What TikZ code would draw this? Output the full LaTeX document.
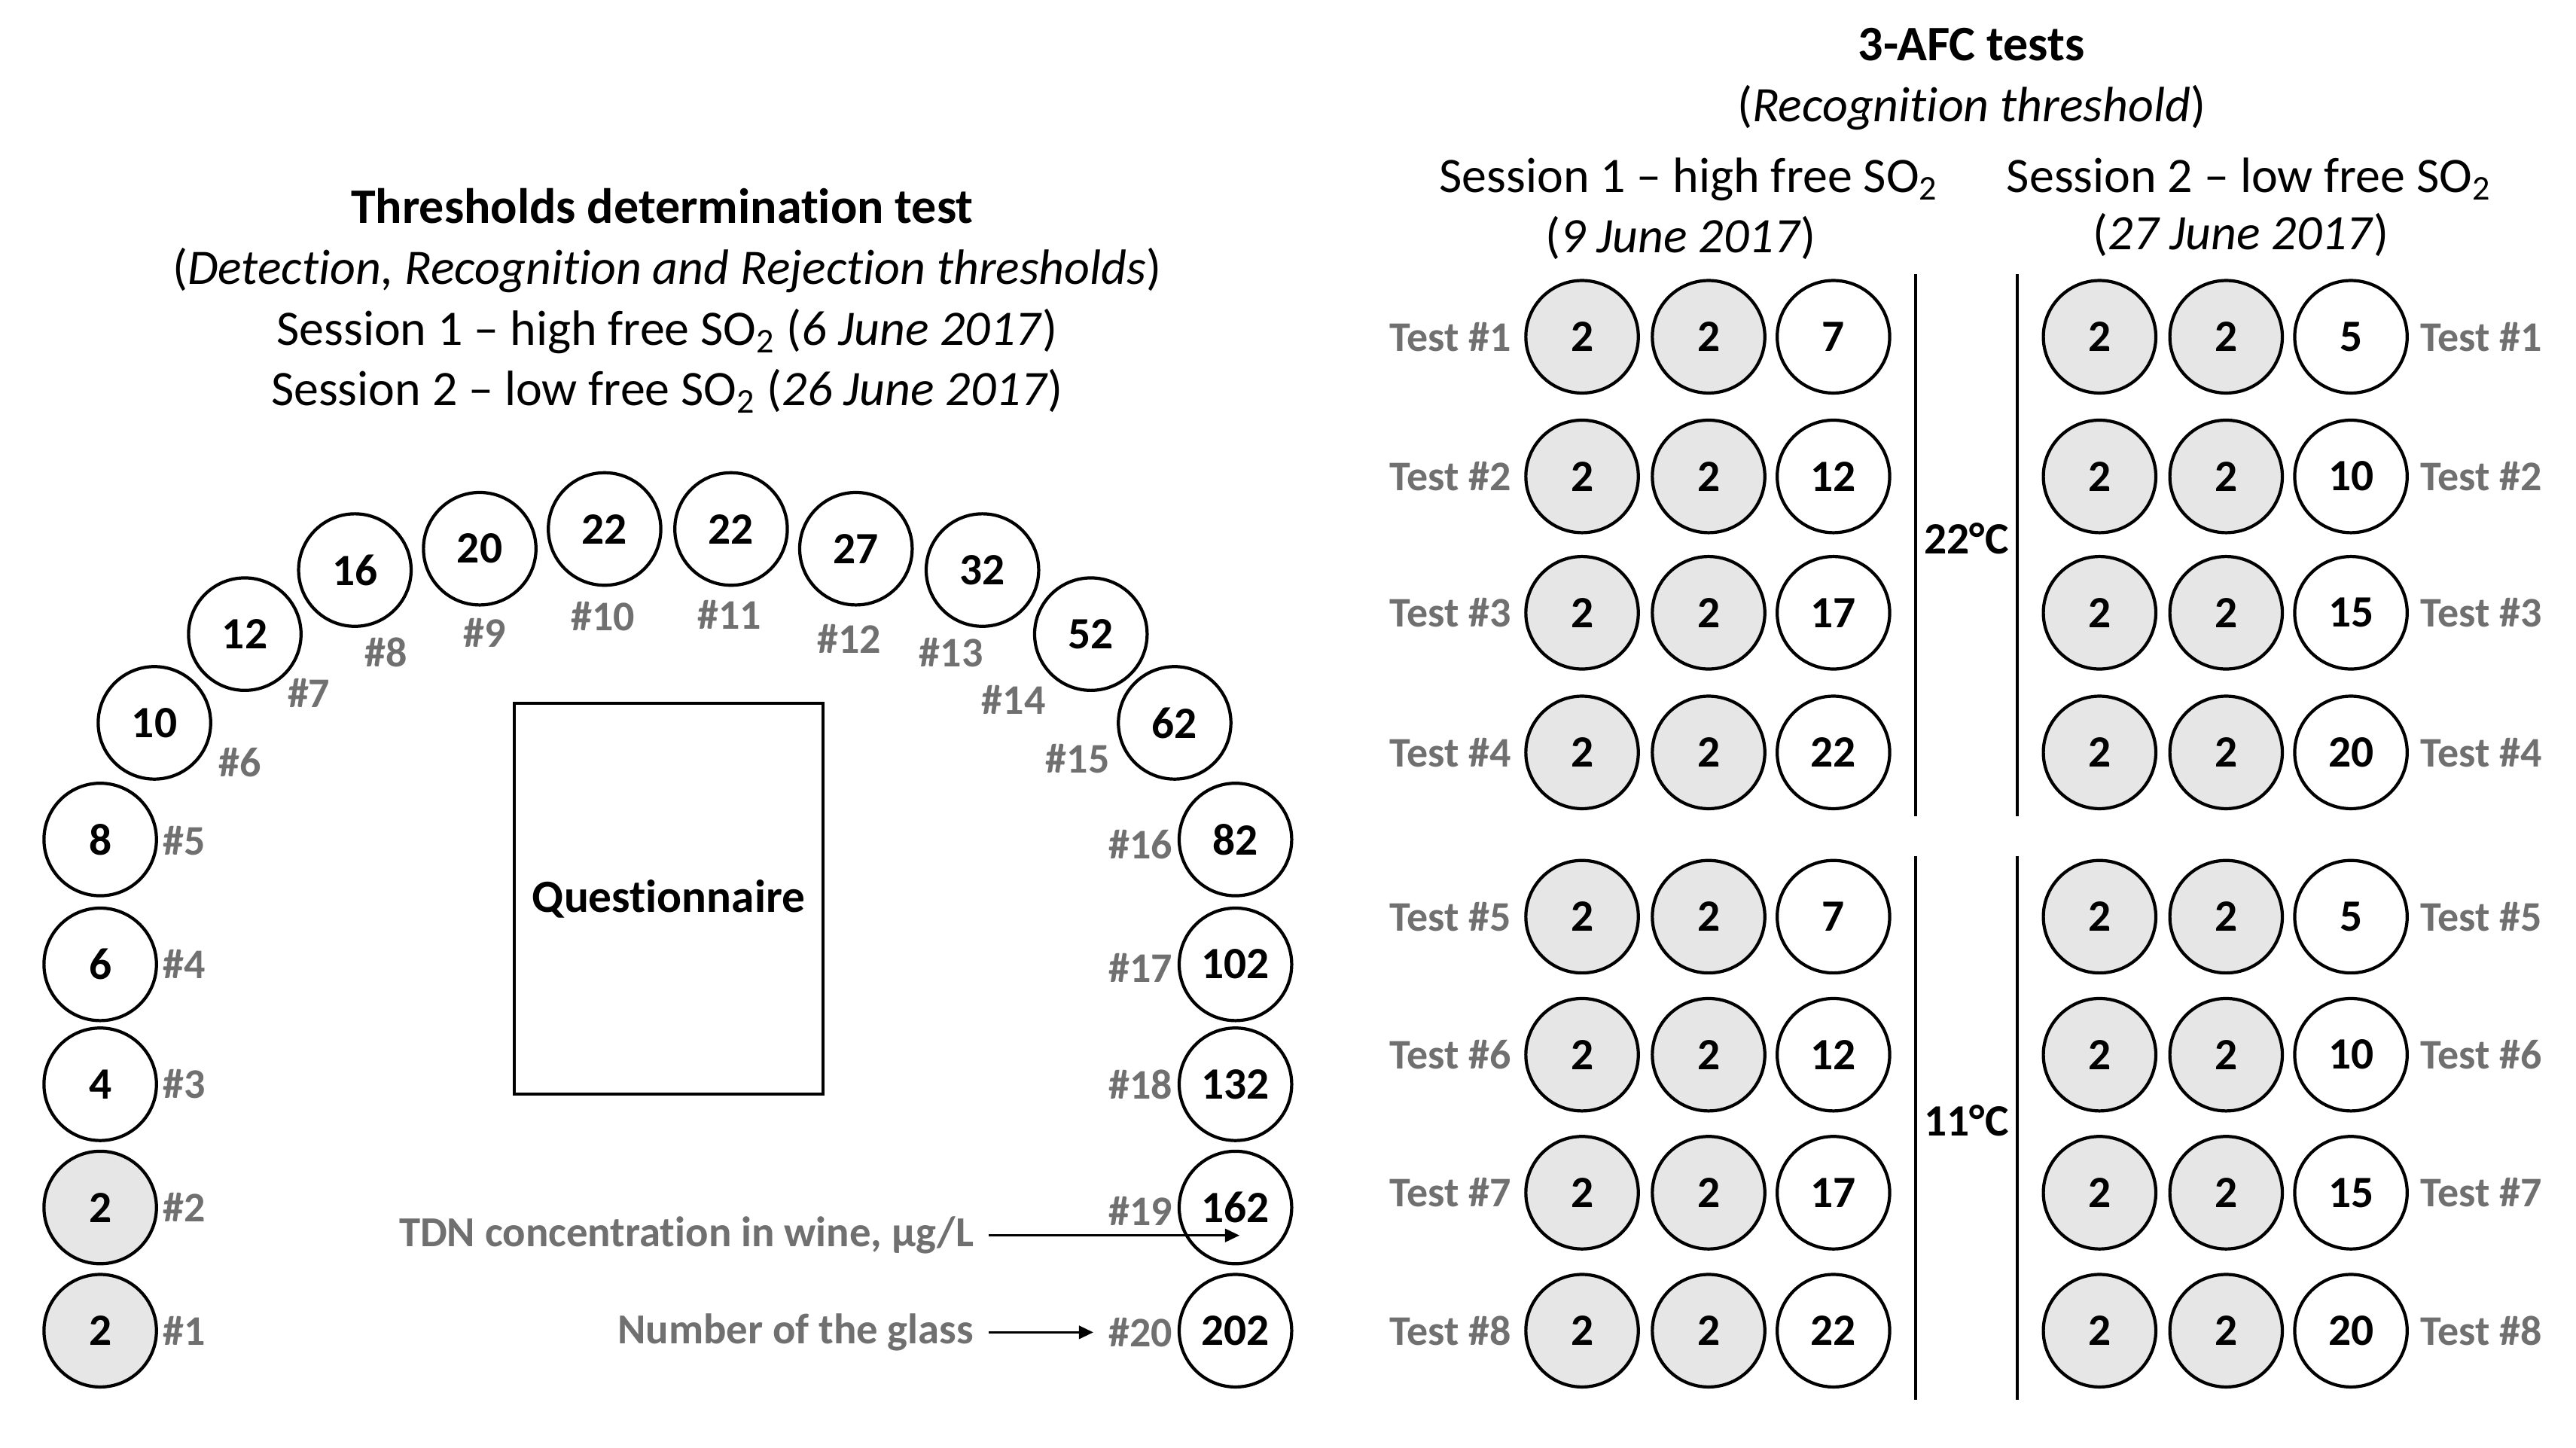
\documentclass[tikz,border=0pt]{standalone}
\usepackage{fontspec}
\setmainfont{Carlito}[Ligatures={NoCommon}]
\usetikzlibrary{arrows.meta}
\definecolor{ctrlgray}{RGB}{230,230,230}
\definecolor{labgray}{RGB}{112,112,112}
\newcommand\gnumfont{\fontsize{15.5}{18}\selectfont\bfseries}
\newcommand\glabfont{\fontsize{14.6}{17}\selectfont\bfseries}
\newcommand\gheadfont{\fontsize{17.2}{20}\selectfont}
\tikzset{
  glass/.style={circle, draw, line width=1.1pt, minimum size=1.37cm, inner sep=0pt, font=\gnumfont},
  ctrl/.style={glass, fill=ctrlgray},
  lab/.style={text=labgray, font=\glabfont, inner sep=0pt},
  head/.style={font=\gheadfont, inner sep=0pt, anchor=base},
  sep/.style={line width=1.1pt},
  arr/.style={line width=0.9pt, -{Triangle[length=5pt,width=4.5pt]}},
}
\begin{document}
\begin{tikzpicture}[x=0.02cm, y=-0.02cm]
\useasboundingbox (0,0) rectangle (1568,881);

% ---------- Left: thresholds determination test ----------
\node[head, font=\gheadfont\bfseries] (t1) at (403,136) {Thresholds determination test};
\node[head] (t2) at (406,173) {(\textit{Detection, Recognition and Rejection thresholds})};
\node[head] (t3) at (406,210) {Session 1 -- high free SO\textsubscript{2} (\textit{6 June 2017})};
\node[head] (t4) at (406,247) {Session 2 -- low free SO\textsubscript{2} (\textit{26 June 2017})};

\node[ctrl]  (g1)  at (61,810) {2};
\node[ctrl]  (g2)  at (61,735) {2};
\node[glass] (g3)  at (61,660) {4};
\node[glass] (g4)  at (61,587) {6};
\node[glass] (g5)  at (61,511) {8};
\node[glass] (g6)  at (94,440) {10};
\node[glass] (g7)  at (149,386) {12};
\node[glass] (g8)  at (216,347) {16};
\node[glass] (g9)  at (292,334) {20};
\node[glass] (g10) at (368,322) {22};
\node[glass] (g11) at (445,322) {22};
\node[glass] (g12) at (521,334) {27};
\node[glass] (g13) at (598,347) {32};
\node[glass] (g14) at (664,386) {52};
\node[glass] (g15) at (715,440) {62};
\node[glass] (g16) at (752,511) {82};
\node[glass] (g17) at (752,587) {102};
\node[glass] (g18) at (752,660) {132};
\node[glass] (g19) at (752,735) {162};
\node[glass] (g20) at (752,810) {202};

\node[lab, anchor=west] (l1) at (99,810) {\#1};
\node[lab, anchor=west] (l2) at (99,735) {\#2};
\node[lab, anchor=west] (l3) at (99,660) {\#3};
\node[lab, anchor=west] (l4) at (99,587) {\#4};
\node[lab, anchor=west] (l5) at (99,512) {\#5};
\node[lab] (l6)  at (146,464) {\#6};
\node[lab] (l7)  at (188,422) {\#7};
\node[lab] (l8)  at (235,397) {\#8};
\node[lab] (l9)  at (295,385) {\#9};
\node[lab] (l10) at (367,375) {\#10};
\node[lab] (l11) at (444,374) {\#11};
\node[lab] (l12) at (517,389) {\#12};
\node[lab] (l13) at (579,397) {\#13};
\node[lab] (l14) at (617,426) {\#14};
\node[lab] (l15) at (656,462) {\#15};
\node[lab, anchor=east] (l16) at (714,514) {\#16};
\node[lab, anchor=east] (l17) at (714,589) {\#17};
\node[lab, anchor=east] (l18) at (714,660) {\#18};
\node[lab, anchor=east] (l19) at (714,737) {\#19};
\node[lab, anchor=east] (l20) at (714,811) {\#20};

\node[draw, line width=1.1pt, minimum width=3.76cm, minimum height=4.76cm, inner sep=0pt,
      font=\fontsize{16}{19}\selectfont\bfseries] (q) at (407,547) {Questionnaire};

\node[lab, anchor=east, font=\fontsize{14.8}{17}\selectfont\bfseries] (tdn) at (593,752) {TDN concentration in wine, µg/L};
\node[lab, anchor=east, font=\fontsize{14.8}{17}\selectfont\bfseries] (nog) at (593,811) {Number of the glass};
\draw[arr] ([xshift=0.18cm]tdn.east) -- ([xshift=0.05cm]tdn.east -| g19.center);
\draw[arr] ([xshift=0.18cm]nog.east) -- ([xshift=-0.18cm]nog.east -| l20.west);

% ---------- Right: 3-AFC tests ----------
\node[head, font=\gheadfont\bfseries] (r1) at (1200,37) {3-AFC tests};
\node[head] (r2) at (1200,74) {(\textit{Recognition threshold})};
\node[head] (s1) at (1028,117) {Session 1 -- high free SO\textsubscript{2}};
\node[head] (s1d) at (1023,154) {(\textit{9 June 2017})};
\node[head] (s2) at (1369,117) {Session 2 -- low free SO\textsubscript{2}};
\node[head] (s2d) at (1364,152) {(\textit{27 June 2017})};

\foreach \i/\y/\a/\b in {1/205/7/5, 2/290/12/10, 3/373/17/15, 4/458/22/20,
                         5/558/7/5, 6/642/12/10, 7/726/17/15, 8/810/22/20}{
  \node[ctrl]  (a\i x) at (963,\y)  {2};
  \node[ctrl]  (a\i y) at (1040,\y) {2};
  \node[glass] (a\i z) at (1116,\y) {\a};
  \node[ctrl]  (b\i x) at (1278,\y) {2};
  \node[ctrl]  (b\i y) at (1355,\y) {2};
  \node[glass] (b\i z) at (1431,\y) {\b};
  \node[lab, anchor=east] (ta\i) at (920,\y) {Test \#\i};
  \node[lab, anchor=west] (tb\i) at (1473,\y) {Test \#\i};
}

\coordinate (v1t) at (1166,167);
\coordinate (v1b) at (1166,497);
\coordinate (v2t) at (1228,167);
\coordinate (v2b) at (1228,497);
\coordinate (v3t) at (1166,521);
\coordinate (v3b) at (1166,852);
\coordinate (v4t) at (1228,521);
\coordinate (v4b) at (1228,852);
\draw[sep] (v1t) -- (v1b);
\draw[sep] (v2t) -- (v2b);
\draw[sep] (v3t) -- (v3b);
\draw[sep] (v4t) -- (v4b);

\node[font=\fontsize{15.5}{18}\selectfont\bfseries, inner sep=0pt] (c22) at (1197,328) {22°C};
\node[font=\fontsize{15.5}{18}\selectfont\bfseries, inner sep=0pt] (c11) at (1197,682) {11°C};
\end{tikzpicture}
\end{document}
